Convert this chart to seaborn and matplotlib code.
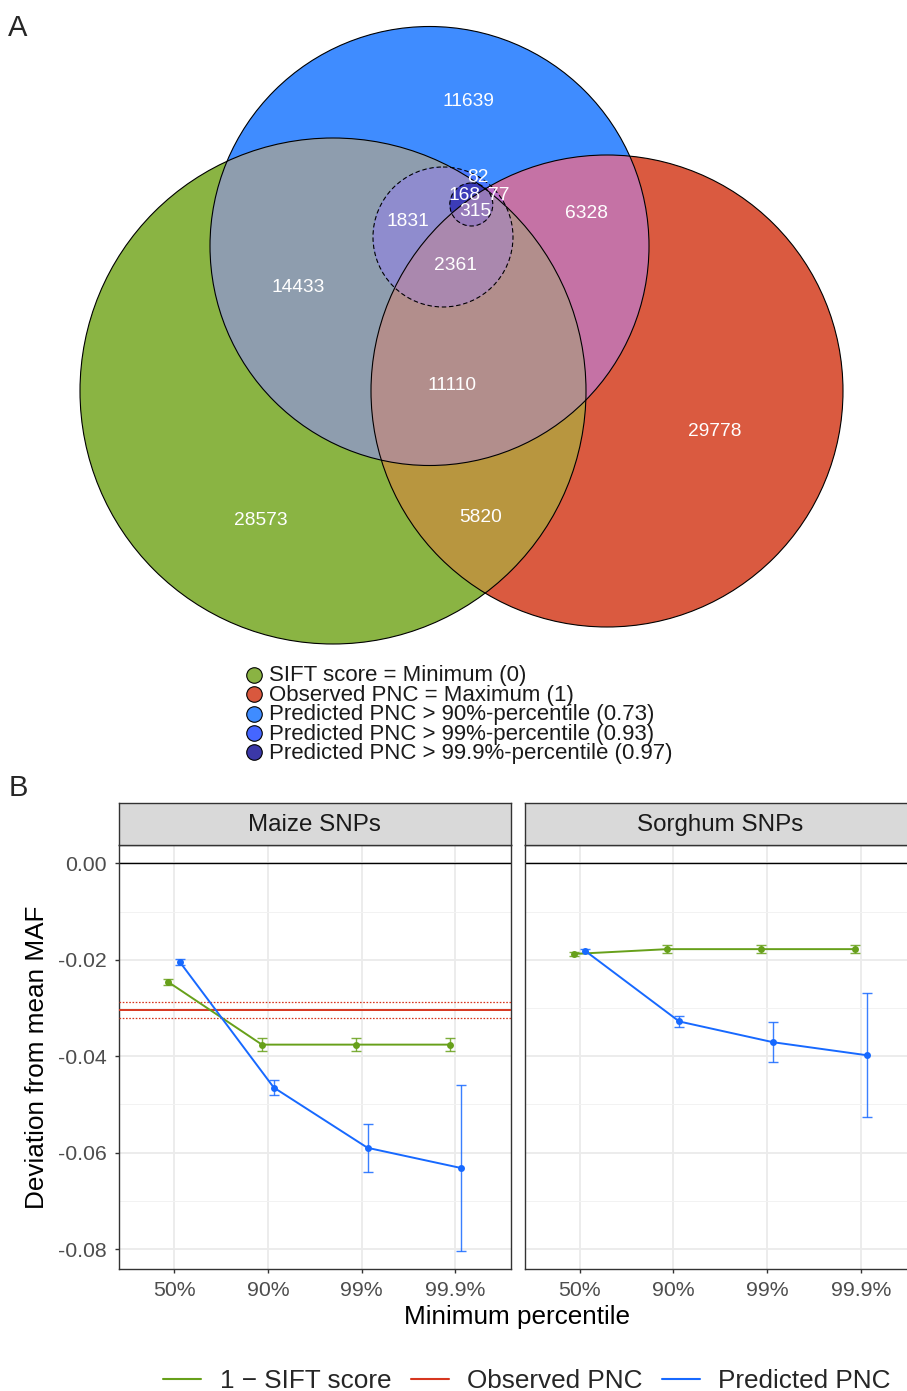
import numpy as np
import pandas as pd
import matplotlib
matplotlib.use("Agg")
import matplotlib.pyplot as plt
import matplotlib.colors as mcolors
from matplotlib.patches import Polygon, Circle
from matplotlib.lines import Line2D
from matplotlib.ticker import FixedLocator, FixedFormatter
from itertools import combinations
import seaborn as sns

# ---------------- data: panel A (Euler diagram) ----------------
venn_sets = ["SIFT score = Minimum (0)",
             "Observed PNC = Maximum (1)",
             "Predicted PNC > 90%-percentile (0.73)",
             "Predicted PNC > 99%-percentile (0.93)",
             "Predicted PNC > 99.9%-percentile (0.97)"]
venn_colors = ["#8AB343", "#D9583E", "#3F8CFF", "#4566FF", "#3B38A8"]
venn_counts = [28573, 29778, 11639, 14433, 5820, 6328, 11110, 1831, 2361,
               82, 168, 77, 315]

# ---------------- data: panel B ----------------
percentiles = ["50%", "90%", "99%", "99.9%"]
maize_sift = [-0.0246, -0.0376, -0.0376, -0.0376]
maize_sift_err = [0.00055, 0.0013, 0.0013, 0.0013]
maize_pred = [-0.0205, -0.0465, -0.0590, -0.0632]
maize_pred_err = [0.0006, 0.0016, 0.0050, 0.0172]
sorghum_sift = [-0.0188, -0.0178, -0.0178, -0.0178]
sorghum_sift_err = [0.0005, 0.0009, 0.0009, 0.0009]
sorghum_pred = [-0.0182, -0.0328, -0.0371, -0.0398]
sorghum_pred_err = [0.0005, 0.0012, 0.0041, 0.0129]
maize_observed = -0.0305
maize_observed_ci = [-0.0288, -0.0321]
y_ticks = [-0.08, -0.06, -0.04, -0.02, 0.00]
y_tick_labels = ["-0.08", "-0.06", "-0.04", "-0.02", "0.00"]
panels = ["Maize SNPs", "Sorghum SNPs"]
measures = ["1 \u2212 SIFT score", "Observed PNC", "Predicted PNC"]
measure_colors = ["#67A01A", "#D6361F", "#1769FF"]

# ---------------- layout / style constants ----------------
W, H = 907, 1391
circle_geom = [(333, 391, 253), (607, 391, 236), (429.5, 246, 219.5),
               (443, 237, 70), (471.3, 204.5, 21.5)]
circle_dashed = [False, False, False, True, True]
label_xy = [(261, 521), (715, 432), (468, 101), (298, 288), (481, 518),
            (587, 213), (452, 385), (408, 221), (455, 265), (478, 178),
            (465, 195), (499, 195), (475, 211)]
# fills of the overlap regions (keyed by set membership) as seen in the figure
region_fill = {
    (0,): "#8AB443", (1,): "#DA5A40", (2,): "#3F8CFF",
    (0, 1): "#B8963F", (0, 2): "#8E9DAE", (1, 2): "#C572A5",
    (0, 1, 2): "#B28E8C",
    (2, 3): "#4A78FF", (0, 2, 3): "#8F8CCE", (1, 2, 3): "#BC70C8",
    (0, 1, 2, 3): "#AA88AE",
    (2, 3, 4): "#3A3AC0", (0, 2, 3, 4): "#3C3CB8", (1, 2, 3, 4): "#8A60C0",
    (0, 1, 2, 3, 4): "#967ABA",
}

sns.set_style("white")
plt.rcParams["font.family"] = ["Liberation Sans", "DejaVu Sans"]

fig = plt.figure(figsize=(W / 100, H / 100), dpi=100)

# ---------- colour mixing in Lab space (fallback) ----------
M = np.array([[0.4124564, 0.3575761, 0.1804375],
              [0.2126729, 0.7151522, 0.0721750],
              [0.0193339, 0.1191920, 0.9503041]])
WHITE = np.array([0.95047, 1.0, 1.08883])
D = 6 / 29


def to_lab(col):
    rgb = np.array(mcolors.to_rgb(col))
    lin = np.where(rgb <= 0.04045, rgb / 12.92, ((rgb + 0.055) / 1.055) ** 2.4)
    xyz = M @ lin / WHITE
    f = np.where(xyz > D ** 3, np.cbrt(xyz), xyz / (3 * D * D) + 4 / 29)
    return np.array([116 * f[1] - 16, 500 * (f[0] - f[1]), 200 * (f[1] - f[2])])


def from_lab(lab):
    L, a, b = lab
    fy = (L + 16) / 116
    f = np.array([fy + a / 500, fy, fy - b / 200])
    xyz = np.where(f > D, f ** 3, 3 * D * D * (f - 4 / 29)) * WHITE
    lin = np.clip(np.linalg.inv(M) @ xyz, 0, 1)
    rgb = np.where(lin <= 0.0031308, 12.92 * lin, 1.055 * lin ** (1 / 2.4) - 0.055)
    return tuple(np.clip(rgb, 0, 1))


def disc_intersection(cs, n=2400):
    pts = []
    t = np.linspace(0, 2 * np.pi, n, endpoint=False)
    for i, (cx, cy, r) in enumerate(cs):
        x = cx + r * np.cos(t)
        y = cy + r * np.sin(t)
        ok = np.ones(n, bool)
        for j, (ox, oy, orr) in enumerate(cs):
            if j != i:
                ok &= (x - ox) ** 2 + (y - oy) ** 2 <= orr ** 2
        pts.append(np.column_stack([x[ok], y[ok]]))
    P = np.vstack(pts)
    if len(P) < 3:
        return None
    c = P.mean(0)
    order = np.argsort(np.arctan2(P[:, 1] - c[1], P[:, 0] - c[0]))
    return P[order]


# ---------------- panel A ----------------
axA = fig.add_axes([0, 1 - 780 / H, 1, 780 / H])
axA.set_xlim(0, W)
axA.set_ylim(780, 0)
axA.axis("off")

labs = [to_lab(c) for c in venn_colors]
z = 1
for k in range(1, len(circle_geom) + 1):
    for combo in combinations(range(len(circle_geom)), k):
        poly = disc_intersection([circle_geom[i] for i in combo])
        if poly is None:
            continue
        if combo in region_fill:
            col = region_fill[combo]
        else:
            col = from_lab(np.mean([labs[i] for i in combo], axis=0))
        axA.add_patch(Polygon(poly, closed=True, facecolor=col,
                              edgecolor="none", zorder=z))
        z += 1

for (cx, cy, r), dashed in zip(circle_geom, circle_dashed):
    axA.add_patch(Circle((cx, cy), r, fill=False, edgecolor="black",
                         lw=0.8, ls=(0, (4, 2.5)) if dashed else "-",
                         zorder=200))

for cnt, (x, y) in zip(venn_counts, label_xy):
    axA.text(x, y, str(cnt), color="white", fontsize=13.8,
             ha="center", va="center", zorder=300)

leg_y = [675, 694.5, 714, 733.5, 752.5]
for lab, col, y in zip(venn_sets, venn_colors, leg_y):
    axA.scatter([253.5], [y], s=125, c=[col], edgecolors="black",
                linewidths=0.8, zorder=300)
    axA.text(269, y + 1, lab, fontsize=16, color="#1A1A1A",
             ha="left", va="center", zorder=300)

fig.text(18 / W, 1 - 28 / H, "A", fontsize=21, ha="center", va="center")
fig.text(18 / W, 1 - 788 / H, "B", fontsize=21, ha="center", va="center")

# ---------------- panel B ----------------
rows = []
for panel, sift, sift_e, pred, pred_e in [
        ("Maize SNPs", maize_sift, maize_sift_err, maize_pred, maize_pred_err),
        ("Sorghum SNPs", sorghum_sift, sorghum_sift_err, sorghum_pred, sorghum_pred_err)]:
    for i, p in enumerate(percentiles):
        rows.append(dict(panel=panel, measure=measures[0], pos=i + 1 - 0.063,
                         pct=p, value=sift[i], err=sift_e[i]))
        rows.append(dict(panel=panel, measure=measures[2], pos=i + 1 + 0.063,
                         pct=p, value=pred[i], err=pred_e[i]))
df = pd.DataFrame(rows)
palette = dict(zip(measures, measure_colors))

top_px, bot_px = 844.5, 1269
strip_top = 803
panel_x = [(119, 391.5), (524.5, 391.5)]
ymax = (863.3 - top_px) / 4.8225 / 1000
ymin = -(bot_px - 863.3) / 4.8225 / 1000

for pi, (panel, (x0, w)) in enumerate(zip(panels, panel_x)):
    ax = fig.add_axes([x0 / W, 1 - bot_px / H, w / W, (bot_px - top_px) / H])
    d = df[df.panel == panel]
    ax.set_xlim(1 - 0.587, 4 + 0.587)
    ax.set_ylim(ymin, ymax)
    ax.set_facecolor("white")
    ax.yaxis.set_major_locator(FixedLocator(y_ticks))
    ax.yaxis.set_major_formatter(FixedFormatter(y_tick_labels))
    ax.yaxis.set_minor_locator(FixedLocator([-0.07, -0.05, -0.03, -0.01]))
    ax.set_xticks(range(1, 5))
    ax.set_xticklabels(percentiles)
    ax.grid(True, which="major", color="#EBEBEB", lw=1.3, zorder=0)
    ax.grid(True, which="minor", axis="y", color="#F2F2F2", lw=0.7, zorder=0)
    ax.set_axisbelow(True)
    for s in ax.spines.values():
        s.set_color("#333333")
        s.set_linewidth(1.0)
        s.set_visible(True)
    ax.tick_params(axis="both", which="major", length=3.2, width=1.0,
                   color="#333333", labelcolor="#4D4D4D", labelsize=15.3)
    ax.tick_params(axis="x", which="major", pad=5.2)
    ax.tick_params(axis="y", which="major", pad=5.5)
    ax.tick_params(axis="y", which="minor", length=0)
    if pi == 1:
        ax.tick_params(axis="y", which="both", left=False, labelleft=False)
    else:
        ax.tick_params(axis="y", left=True)
    ax.tick_params(axis="x", bottom=True)

    ax.axhline(0, color="black", lw=1.0, zorder=2)
    if panel == "Maize SNPs":
        ax.axhline(maize_observed, color=measure_colors[1], lw=1.4, zorder=3)
        for v in maize_observed_ci:
            ax.axhline(v, color=measure_colors[1], lw=0.9,
                       ls=(0, (1.3, 1.3)), zorder=3)

    for m in [measures[0], measures[2]]:
        dm = d[d.measure == m]
        ax.errorbar(dm.pos, dm.value, yerr=dm.err, fmt="none",
                    ecolor=palette[m], elinewidth=1.0, capsize=3.8,
                    capthick=1.0, alpha=0.85, zorder=4)
    sns.lineplot(data=d, x="pos", y="value", hue="measure", palette=palette,
                 marker="o", markersize=5, markeredgewidth=0, linewidth=1.4,
                 legend=False, ax=ax, errorbar=None, zorder=5)
    ax.set_xlabel("")
    ax.set_ylabel("")

    sax = fig.add_axes([x0 / W, 1 - top_px / H, w / W, (top_px - strip_top) / H])
    sax.set_facecolor("#D9D9D9")
    sax.set_xticks([])
    sax.set_yticks([])
    for s in sax.spines.values():
        s.set_color("#333333")
        s.set_linewidth(1.0)
        s.set_visible(True)
    sax.text(0.5, 0.48, panel, transform=sax.transAxes, ha="center",
             va="center", fontsize=17.4, color="#1A1A1A")

fig.text(37 / W, 1 - 1057 / H, "Deviation from mean MAF", rotation=90,
         fontsize=18.8, ha="center", va="center", color="black")
fig.text(517 / W, 1 - 1317 / H, "Minimum percentile", fontsize=18.8,
         ha="center", va="center", color="black")

handles = [Line2D([0], [0], color=c, lw=1.5) for c in measure_colors]
fig.legend(handles, measures, loc="center",
           bbox_to_anchor=(527 / W, 1 - 1381 / H), ncol=3, frameon=False,
           fontsize=18.8, handlelength=1.45, handletextpad=0.7,
           columnspacing=0.75, borderpad=0, borderaxespad=0)

fig.savefig("out.png", dpi=100)
